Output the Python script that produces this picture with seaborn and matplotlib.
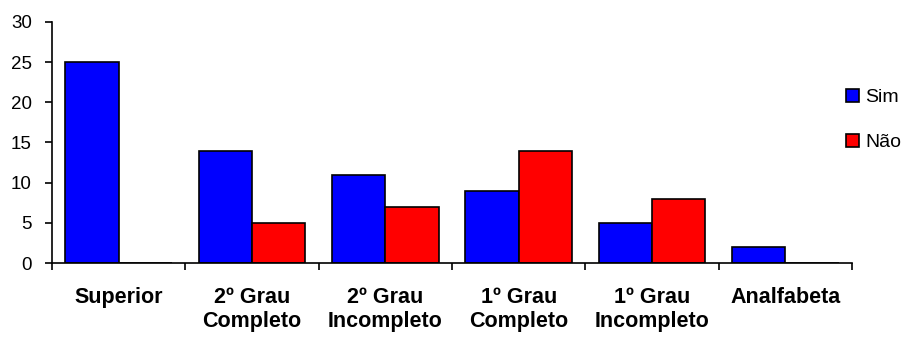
import matplotlib
matplotlib.use("Agg")
import matplotlib.pyplot as plt
import seaborn as sns
import pandas as pd
import numpy as np

categories = ["Superior", "2º Grau\nCompleto", "2º Grau\nIncompleto",
              "1º Grau\nCompleto", "1º Grau\nIncompleto", "Analfabeta"]
series_names = ["Sim", "Não"]
sim_values = [25, 14, 11, 9, 5, 2]
nao_values = [0, 5, 7, 14, 8, 0]
y_ticks = [0, 5, 10, 15, 20, 25, 30]

df = pd.DataFrame({
    "cat": categories * 2,
    "serie": [series_names[0]] * len(categories) + [series_names[1]] * len(categories),
    "valor": sim_values + nao_values,
})

sns.set_theme(style="white")
plt.rcParams["font.family"] = ["Liberation Sans", "DejaVu Sans"]

fig = plt.figure(figsize=(9.04, 3.39), dpi=100)
ax = fig.add_axes([52/904, 1-263/339, 800/904, 241/339])

sns.barplot(data=df, x="cat", y="valor", hue="serie", order=categories,
            hue_order=series_names, palette=["#0000FF", "#FF0000"],
            saturation=1, edgecolor="black", linewidth=1.2, width=0.8,
            ax=ax, legend=True)

ax.set_xlim(-0.5, len(categories) - 0.5)
ax.set_ylim(0, 30)
ax.set_yticks(y_ticks)
ax.set_xlabel("")
ax.set_ylabel("")
for s in ["top", "right"]:
    ax.spines[s].set_visible(False)
for s in ["left", "bottom"]:
    ax.spines[s].set_color("black")
    ax.spines[s].set_linewidth(1.2)

ax.tick_params(axis="y", which="major", direction="out", length=5, width=1.2,
               color="black", labelsize=13.5, labelcolor="black", pad=9.5, left=True)
ax.tick_params(axis="x", which="major", length=0, labelsize=15.5,
               labelcolor="black", pad=17)
ax.set_xticks(np.arange(-0.5, len(categories)), minor=True)
ax.tick_params(axis="x", which="minor", direction="out", length=5, width=1.2,
               color="black", bottom=True)
for lbl in ax.get_xticklabels():
    lbl.set_fontweight("bold")
    lbl.set_linespacing(1.2)

handles, labels = ax.get_legend_handles_labels()
ax.get_legend().remove()
leg = fig.legend(handles, labels, loc="center left",
                 bbox_to_anchor=(846.5/904, 1-120/339),
                 frameon=False, fontsize=14, handlelength=0.65, handleheight=0.65,
                 handletextpad=0.3, labelspacing=1.4, borderaxespad=0, borderpad=0)
for t in leg.get_texts():
    t.set_color("black")

fig.savefig("out.png", dpi=100)
